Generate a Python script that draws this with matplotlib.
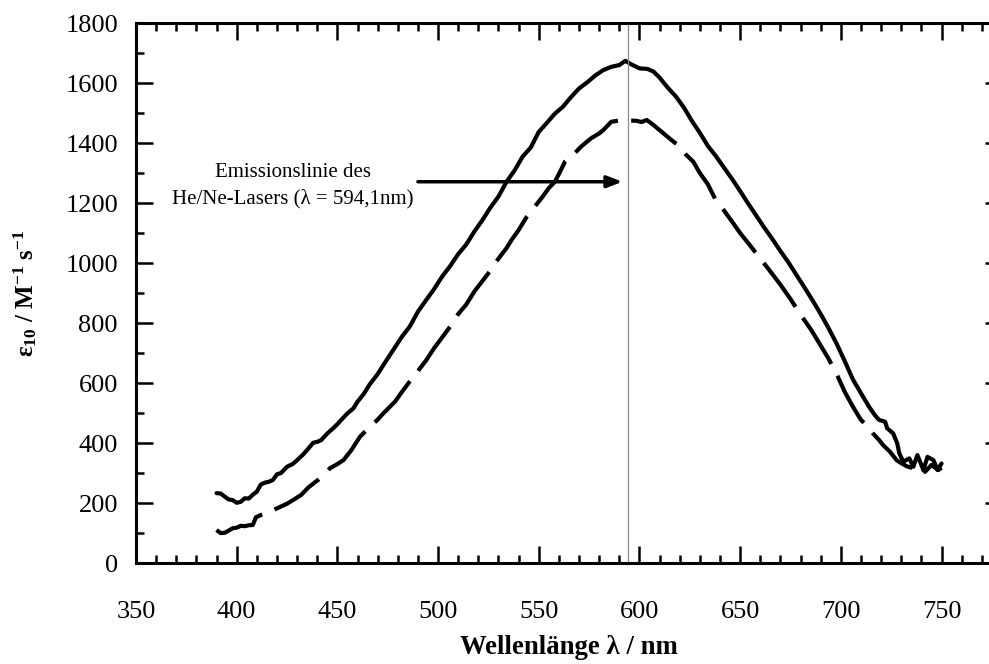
import matplotlib
matplotlib.use("Agg")
import matplotlib.pyplot as plt
from matplotlib.ticker import MultipleLocator

plt.rcParams['font.family'] = ['Liberation Serif', 'DejaVu Serif']
plt.rcParams['mathtext.fontset'] = 'custom'
plt.rcParams['mathtext.rm'] = 'Liberation Serif'
plt.rcParams['mathtext.it'] = 'Liberation Serif:italic'
plt.rcParams['mathtext.bf'] = 'Liberation Serif:bold'

# solid curve
wl_solid = [390, 392, 394, 396, 398, 400, 402, 404, 406, 408, 410, 412, 414, 416, 418,
            420, 422, 425, 428, 430, 433, 435, 438, 440, 442, 445, 448, 450, 453, 455,
            458, 460, 463, 466, 470, 474, 478, 482, 486, 490, 494, 498, 502, 506, 510,
            514, 518, 522, 526, 530, 534, 538, 542, 546, 550, 554, 558, 562, 566, 570,
            574, 578, 582, 586, 590, 593, 596, 600, 604, 607, 610, 614, 618, 622, 626,
            630, 634, 638, 642, 646, 650, 654, 658, 662, 666, 670, 674, 678, 682, 686,
            690, 694, 698, 702, 706, 710, 714, 717, 719, 722, 723, 726, 728, 729, 731,
            734, 736, 738, 741, 743, 746, 748, 750]
eps_solid = [233, 232, 222, 212, 210, 201, 204, 216, 215, 228, 238, 262, 268, 271, 277,
             296, 300, 321, 331, 343, 362, 377, 401, 404, 410, 432, 450, 463, 485, 499,
             516, 538, 563, 595, 630, 672, 713, 754, 789, 838, 876, 913, 955, 990, 1030,
             1062, 1105, 1143, 1185, 1222, 1271, 1309, 1355, 1385, 1437, 1467, 1498, 1521, 1553, 1582,
             1602, 1625, 1643, 1654, 1660, 1674, 1662, 1649, 1647, 1638, 1618, 1585, 1556, 1519, 1474,
             1434, 1390, 1356, 1318, 1280, 1240, 1198, 1158, 1118, 1080, 1040, 1002, 960, 918, 875,
             830, 782, 730, 672, 612, 566, 521, 492, 477, 471, 449, 432, 399, 366, 338,
             349, 321, 360, 310, 354, 343, 310, 332]

# dashed curve
wl_dash = [390, 392, 394, 396, 398, 400, 402, 404, 406, 408, 409.6, 412, 415.7, 418, 421.5,
           425, 428, 432, 435.6, 439, 442.2, 446.3, 450, 453, 457, 461.2, 464, 467, 470, 472.8,
           478.6, 482, 486, 490, 494, 498, 502, 506, 510, 514, 518, 522, 526, 530, 534,
           536.5, 540, 544, 548, 552, 555, 558, 561, 563, 567, 571, 576, 580, 582, 586,
           590, 592, 595, 598.6, 601, 603.6, 607, 610, 615, 620, 623, 626.7, 630, 634, 637.5,
           642, 646, 650, 655, 660, 665, 670, 675, 680, 685, 690, 694, 698.6, 702, 706,
           710, 713.6, 716, 719, 721, 724.4, 727.7, 730.2, 733, 736, 739.3, 741.8, 745, 748.4, 750]
eps_dash = [110, 100, 101, 108, 116, 118, 124, 123, 126, 127, 153, 160, 168, 176, 187,
            198, 210, 227, 252, 270, 286, 316, 330, 343, 377, 421, 440, 460, 478, 499,
            538, 570, 606, 640, 675, 716, 752, 788, 830, 862, 905, 940, 975, 1015, 1050,
            1077, 1110, 1154, 1188, 1222, 1250, 1271, 1310, 1338, 1360, 1388, 1416, 1432, 1443, 1471,
            1475, 1477, 1475, 1474, 1470, 1477, 1460, 1443, 1415, 1388, 1362, 1338, 1300, 1262, 1215,
            1175, 1138, 1100, 1058, 1015, 972, 928, 880, 828, 780, 725, 680, 620, 570, 521,
            477, 454, 432, 410, 393, 371, 343, 332, 322, 316, 327, 304, 327, 310, 318]

laser_wl = 594.1
x_ticks = [350, 400, 450, 500, 550, 600, 650, 700, 750]
y_ticks = [0, 200, 400, 600, 800, 1000, 1200, 1400, 1600, 1800]

fig = plt.figure(figsize=(9.89, 6.64), dpi=100)
ax = fig.add_axes([0.1375, 0.152, 0.8756, 0.8133])

ax.plot(wl_solid, eps_solid, color='black', lw=3.0, solid_joinstyle='round', solid_capstyle='round')
ax.plot(wl_dash, eps_dash, color='black', lw=3.0, linestyle=(0, (13, 3.2)),
        dash_joinstyle='round', dash_capstyle='butt')

ax.axvline(laser_wl, color='#8a8a8a', lw=0.9)

ax.annotate('', xy=(591.5, 1271), xytext=(490, 1271),
            arrowprops=dict(arrowstyle='-|>,head_length=0.9,head_width=0.35', color='black', lw=2.5,
                            shrinkA=0, shrinkB=0))
ax.text(428, 1257, 'Emissionslinie des\nHe/Ne-Lasers (λ = 594,1nm)', ha='center', va='center',
        fontsize=15, linespacing=1.5)

ax.set_xlim(350, 780)
ax.set_ylim(0, 1800)
ax.set_xticks(x_ticks)
ax.set_yticks(y_ticks)
ax.xaxis.set_minor_locator(MultipleLocator(10))
ax.yaxis.set_minor_locator(MultipleLocator(100))
ax.tick_params(which='both', direction='in', top=True, right=True, width=1.8, labelsize=19)
ax.tick_params(which='major', length=12)
ax.tick_params(which='minor', length=6)
ax.tick_params(axis='x', pad=27)
ax.tick_params(axis='y', pad=13)
for s in ax.spines.values():
    s.set_linewidth(2.2)

ax.set_xlabel('Wellenlänge λ / nm', fontsize=19.3, fontweight='bold', labelpad=9)
ax.set_ylabel(r'$\mathregular{ε_{10}}$ / M$^{\mathregular{-1}}$ s$^{\mathregular{-1}}$',
              fontsize=18, fontweight='bold', labelpad=19)

fig.savefig('out.png', dpi=100)
